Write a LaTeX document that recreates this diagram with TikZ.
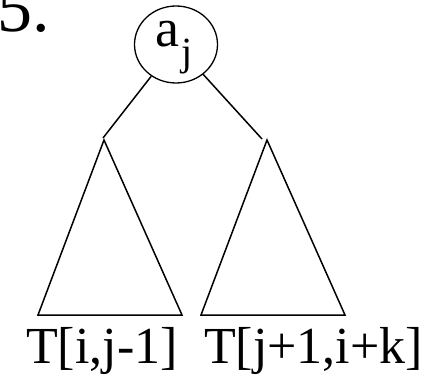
\documentclass[tikz,border=0pt]{standalone}
\usepackage{fontspec}
\setmainfont{Liberation Serif}
\usetikzlibrary{shapes.geometric}
\tikzset{
  treeline/.style={line width=1.5pt, line join=miter},
  lbl/.style={anchor=base west, inner sep=0pt, outer sep=0pt},
}
\begin{document}
\begin{tikzpicture}[x=1pt,y=-1pt]
\useasboundingbox (0,0) rectangle (430,374);
\begin{scope}
\clip (0,0) rectangle (430,374);
\node[lbl] (num) at (-2,32) {\fontsize{70}{80}\selectfont 5.};
\end{scope}
\node[ellipse, draw, line width=1.3pt, minimum width=83pt, minimum height=77pt, inner sep=0pt] (root) at (176,44.5) {};
\node[lbl] (a) at (155,47) {\fontsize{54}{64}\selectfont a};
\node[lbl] (j) at (181,66) {\fontsize{40}{48}\selectfont j};
% left triangle
\coordinate (lt) at (104,140);
\coordinate (lbl1) at (38,315);
\coordinate (lbr) at (182,315);
\draw[treeline] (lt) -- (lbl1) -- (lbr) -- cycle;
% right triangle
\coordinate (rt) at (267,140);
\coordinate (rbl) at (201,315);
\coordinate (rbr) at (345,315);
\draw[treeline] (rt) -- (rbl) -- (rbr) -- cycle;
% edges
\coordinate (le) at (103,138);
\coordinate (re) at (262,139);
\draw[treeline] (root) -- (le);
\draw[treeline] (root) -- (re);
% labels
\node[lbl] (t1) at (26,363) {\fontsize{52}{62}\selectfont T[i,j-1]};
\node[lbl] (t2) at (204,363) {\fontsize{52}{62}\selectfont T[j+1,i+k]};
\end{tikzpicture}
\end{document}
